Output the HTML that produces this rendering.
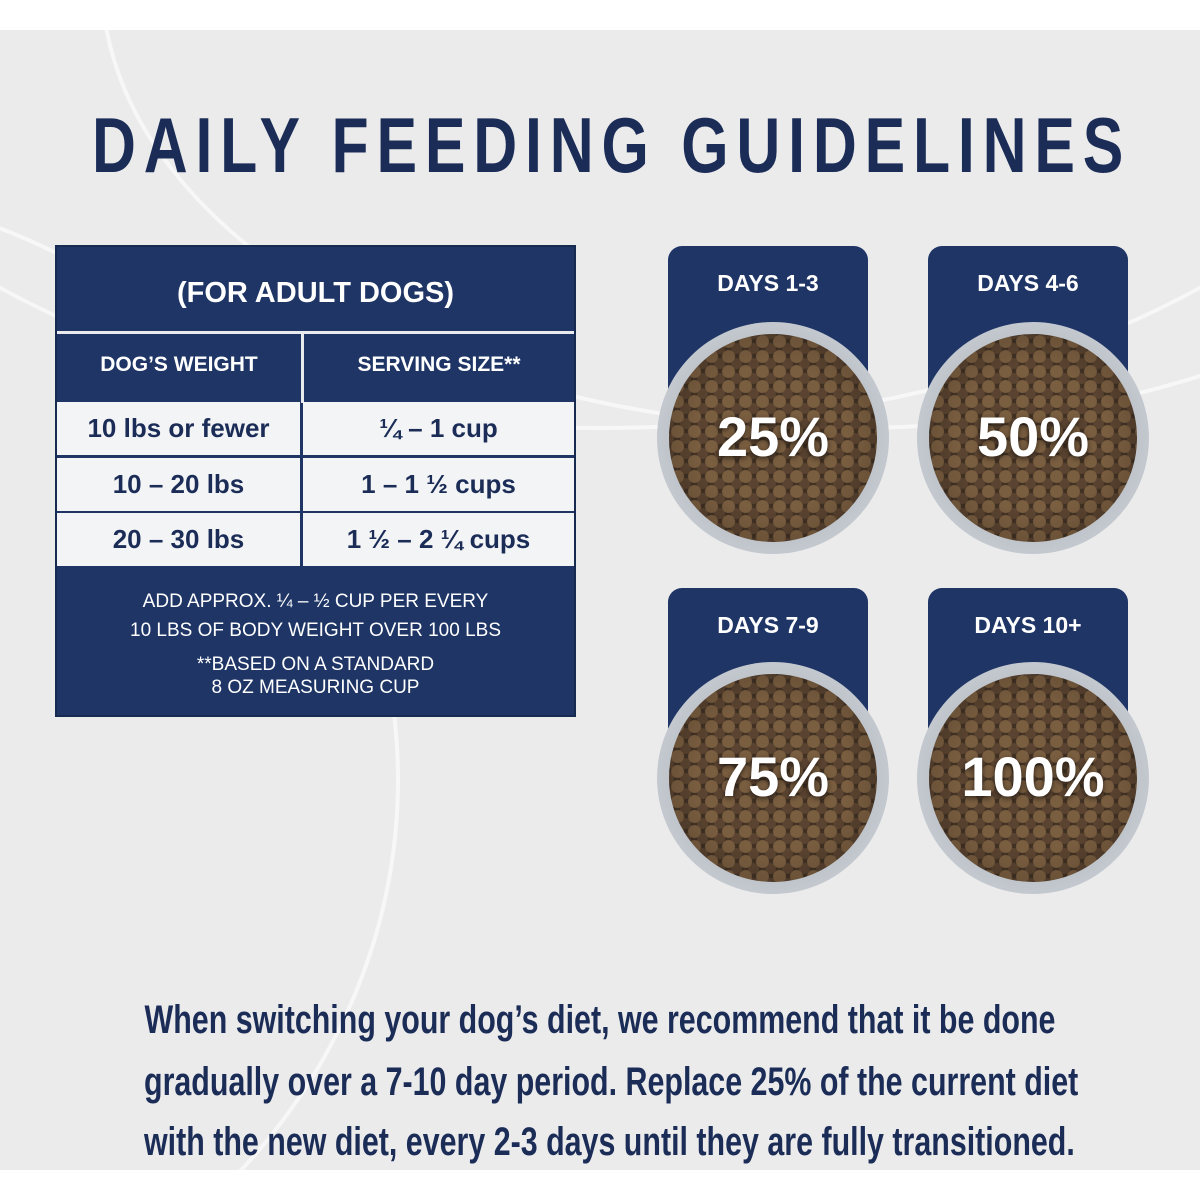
<!DOCTYPE html>
<html><head><meta charset="utf-8"><style>
*{margin:0;padding:0;box-sizing:border-box}
html,body{width:1200px;height:1200px;overflow:hidden}
body{position:relative;background:#fff;font-family:"Liberation Sans",sans-serif}
#bg{position:absolute;left:0;top:30px;width:1200px;height:1140px;background:#ebebec;overflow:hidden}
.arc{position:absolute;border:4px solid rgba(255,255,255,.6);border-radius:50%}
h1{position:absolute;left:-40px;width:1200px;top:100px;text-align:center;font-size:78px;line-height:90px;font-weight:bold;color:#1b2d57;letter-spacing:10px;white-space:nowrap;transform:scaleX(.78);transform-origin:center}
.tbl{position:absolute;left:55px;top:245px;width:521px;height:472px;background:#1e3566;border:2px solid #172a50;color:#fff}
.tbl div{position:absolute;text-align:center;font-weight:bold}
.w{background:#f3f4f6;color:#1b2d57}
.card{position:absolute;width:200px;height:230px;background:#1e3566;border-radius:14px;color:#fff;font-weight:bold;font-size:23px;text-align:center;padding-top:24px}
.bowl{position:absolute;width:232px;height:232px;border-radius:50%;background:radial-gradient(circle,#9aa0a8 0,#c9ced4 80%,#7d8490 88%,#4c525c 100%)}
.food{position:absolute;left:12px;top:12px;width:208px;height:208px;border-radius:50%;
background:radial-gradient(circle at 50% 50%,rgba(0,0,0,0) 50%,rgba(0,0,0,.3) 100%),radial-gradient(circle,#7a5e40 0 6px,transparent 7px) 0 0/17px 15px,radial-gradient(circle,#5a4330 0 5px,transparent 6px) 8px 7px/17px 15px,#3e2f22}
.pct{position:absolute;left:0;width:232px;top:82px;text-align:center;color:#fff;font-weight:bold;font-size:56px;text-shadow:0 2px 6px rgba(0,0,0,.6)}
.txt{position:absolute;left:0;width:1200px;text-align:center;color:#1b2d57;font-size:40px;font-weight:bold;white-space:nowrap;transform:scaleX(.76);transform-origin:center;line-height:60px}
</style></head><body>
<div id="bg">
<div class="arc" style="left:-300px;top:-700px;width:1800px;height:1100px"></div>
<div class="arc" style="left:100px;top:-500px;width:1500px;height:900px"></div>
<div class="arc" style="left:-900px;top:150px;width:1300px;height:1200px"></div>
</div>
<h1>DAILY FEEDING GUIDELINES</h1>
<div class="tbl">
<div style="left:0;top:30px;width:517px;font-size:29px">(FOR ADULT DOGS)</div>
<div style="left:0;top:84px;width:517px;height:3px;background:#e8eaee"></div>
<div style="left:244px;top:86px;width:3px;height:70px;background:#e8eaee"></div>
<div style="left:0;top:106px;width:244px;font-size:21px">DOG’S WEIGHT</div>
<div style="left:247px;top:106px;width:270px;font-size:21px">SERVING SIZE**</div>
<div class="w" style="left:0;top:155px;width:243px;height:53px;font-size:26px;line-height:53px">10 lbs or fewer</div>
<div class="w" style="left:246px;top:155px;width:271px;height:53px;font-size:26px;line-height:53px">¼ – 1 cup</div>
<div class="w" style="left:0;top:211px;width:243px;height:53px;font-size:26px;line-height:53px">10 – 20 lbs</div>
<div class="w" style="left:246px;top:211px;width:271px;height:53px;font-size:26px;line-height:53px">1 – 1 ½ cups</div>
<div class="w" style="left:0;top:266px;width:243px;height:53px;font-size:26px;line-height:53px">20 – 30 lbs</div>
<div class="w" style="left:246px;top:266px;width:271px;height:53px;font-size:26px;line-height:53px">1 ½ – 2 ¼ cups</div>
<div style="left:0;top:340px;width:517px;font-size:19px;line-height:29px;font-weight:normal">ADD APPROX. ¼ – ½ CUP PER EVERY<br>10 LBS OF BODY WEIGHT OVER 100 LBS</div>
<div style="left:0;top:406px;width:517px;font-size:19px;line-height:23px;font-weight:normal">**BASED ON A STANDARD<br>8 OZ MEASURING CUP</div>
</div>
<div class="card" style="left:668px;top:246px">DAYS 1-3</div>
<div class="card" style="left:928px;top:246px">DAYS 4-6</div>
<div class="card" style="left:668px;top:588px">DAYS 7-9</div>
<div class="card" style="left:928px;top:588px">DAYS 10+</div>
<div class="bowl" style="left:657px;top:322px"><div class="food"></div><div class="pct">25%</div></div>
<div class="bowl" style="left:917px;top:322px"><div class="food"></div><div class="pct">50%</div></div>
<div class="bowl" style="left:657px;top:662px"><div class="food"></div><div class="pct">75%</div></div>
<div class="bowl" style="left:917px;top:662px"><div class="food"></div><div class="pct">100%</div></div>
<div class="txt" style="top:990px">When switching your dog’s diet, we recommend that it be done</div>
<div class="txt" style="top:1052px">gradually over a 7-10 day period. Replace 25% of the current diet</div>
<div class="txt" style="top:1112px">with the new diet, every 2-3 days until they are fully transitioned.</div>
</body></html>
